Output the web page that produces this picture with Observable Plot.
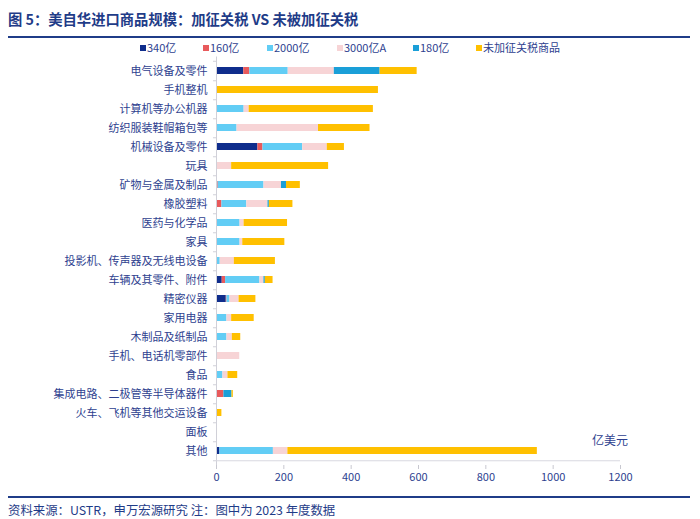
<!DOCTYPE html>
<html>
<head>
<meta charset="utf-8">
<script src="https://cdn.jsdelivr.net/npm/d3@7"></script>
<script src="https://cdn.jsdelivr.net/npm/@observablehq/plot@0.6"></script>
<style>
  body { margin: 0; background: #fff; }
  #wrap { position: relative; width: 700px; height: 519px; background: #fff; overflow: hidden;
          font-family: "Liberation Sans Narrow", "Liberation Sans", "Noto Sans CJK SC", sans-serif; color: #2e3f8f; }
  .abs { position: absolute; }
  #title { left: 8px; top: 8px; font-size: 14.3px; font-weight: bold; color: #1f3c88;
           font-family: "Noto Sans CJK SC", sans-serif; white-space: nowrap; }
  #rule1 { left: 8px; top: 36px; width: 682px; height: 2px; background: #1f3c88; }
  #rule2 { left: 8px; top: 496px; width: 682px; height: 2px; background: #1f3c88; }
  #foot { left: 8px; top: 501px; font-size: 12.4px; color: #1f3c88; white-space: nowrap;
          font-family: "Noto Sans CJK SC", sans-serif; }
  .leg { top: 40px; font-size: 11px; white-space: nowrap; line-height: 14px; font-family: "Liberation Sans Narrow", "Noto Sans CJK SC", sans-serif; }
  .sw { display: inline-block; width: 6px; height: 6px; margin-right: 1px; vertical-align: 1px; }
  #unit { left: 592px; top: 431px; font-size: 12px; font-family: "Noto Sans CJK SC", sans-serif; }
  #chart { left: 0; top: 54px; }
</style>
</head>
<body>
<div id="wrap">
  <div id="title" class="abs">图 5：美自华进口商品规模：加征关税 VS 未被加征关税</div>
  <div id="rule1" class="abs"></div>
  <div id="legend"></div>
  <div id="chart" class="abs"></div>
  <div id="unit" class="abs">亿美元</div>
  <div id="rule2" class="abs"></div>
  <div id="foot" class="abs">资料来源：USTR，申万宏源研究 注：图中为 2023 年度数据</div>
</div>
<script>
const categories = ["电气设备及零件","手机整机","计算机等办公机器","纺织服装鞋帽箱包等","机械设备及零件","玩具","矿物与金属及制品","橡胶塑料","医药与化学品","家具","投影机、传声器及无线电设备","车辆及其零件、附件","精密仪器","家用电器","木制品及纸制品","手机、电话机零部件","食品","集成电路、二极管等半导体器件","火车、飞机等其他交运设备","面板","其他"];
const seriesNames = ["340亿","160亿","2000亿","3000亿A","180亿","未加征关税商品"];
const s340  = [81,0,0,0,123,0,0,0,0,0,3,17,29,0,0,0,0,0,0,0,10];
const s160  = [18,0,0,0,15,0,5,16,0,0,0,10,2,0,0,0,0,22,0,0,0];
const s2000 = [114,0,82,61,118,0,136,74,70,70,8,102,9,31,31,0,19,0,0,0,159];
const s3000 = [137,0,15,242,73,45,52,63,12,8,42,12,27,14,16,69,15,0,0,0,43];
const s180  = [136,0,0,0,0,0,15,4,0,0,0,4,0,0,0,0,0,24,0,0,0];
const sNone = [110,481,369,153,51,288,41,70,129,125,122,23,50,67,25,0,29,4,16,3,741];
const xTicks = [0,200,400,600,800,1000,1200];
const colors = ["#0f2d8c","#e85a5c","#62cdf5","#f7d4d6","#1a9fd8","#ffc000"];

const seriesValues = [s340, s160, s2000, s3000, s180, sNone];
const data = [];
seriesNames.forEach((s, i) => {
  categories.forEach((c, j) => data.push({cat: c, series: s, value: seriesValues[i][j]}));
});

// legend
const legX = [140, 203, 267, 337, 413, 476];
const legend = document.getElementById("legend");
seriesNames.forEach((s, i) => {
  const d = document.createElement("div");
  d.className = "abs leg";
  d.style.left = legX[i] + "px";
  d.innerHTML = `<span class="sw" style="background:${colors[i]}"></span>${s}`;
  legend.appendChild(d);
});

const chart = Plot.plot({
  width: 700,
  height: 440,
  marginLeft: 216,
  marginRight: 80,
  marginTop: 2.5,
  marginBottom: 29,
  style: {fontSize: "11px", fontFamily: "\"Liberation Sans Narrow\", \"Noto Sans CJK SC\", sans-serif", color: "#2e3f8f", background: "transparent"},
  x: {domain: [0, 1200], label: null},
  y: {domain: categories, paddingInner: 0.62, paddingOuter: 0.3, label: null},
  color: {domain: seriesNames, range: colors},
  marks: [
    Plot.barX(data, {x: "value", y: "cat", fill: "series", order: seriesNames}),
    Plot.ruleX([0], {stroke: "#d0d0d8"}),
    Plot.ruleY([0], {y: () => categories[categories.length - 1], dy: 9.75, stroke: "#d8d8e0"}),
    Plot.ruleY(categories, {y: d => d, x1: -9, x2: 0, dy: 9.75, stroke: "#d0d0d8"}),
    Plot.ruleY([categories[0]], {y: d => d, x1: -9, x2: 0, dy: -9.75, stroke: "#d0d0d8"}),
    Plot.axisX({ticks: xTicks, tickFormat: d => String(d), label: null, tickSize: 4, tickPadding: 4, stroke: "#c8c8d0", fill: "#2e3f8f", fontSize: 11}),
    Plot.axisY({tickSize: 0, tickPadding: 9, label: null, fill: "#2e3f8f", fontSize: 11, fontFamily: "\"Noto Sans CJK SC\", sans-serif"})
  ]
});
document.getElementById("chart").appendChild(chart);
</script>
</body>
</html>
